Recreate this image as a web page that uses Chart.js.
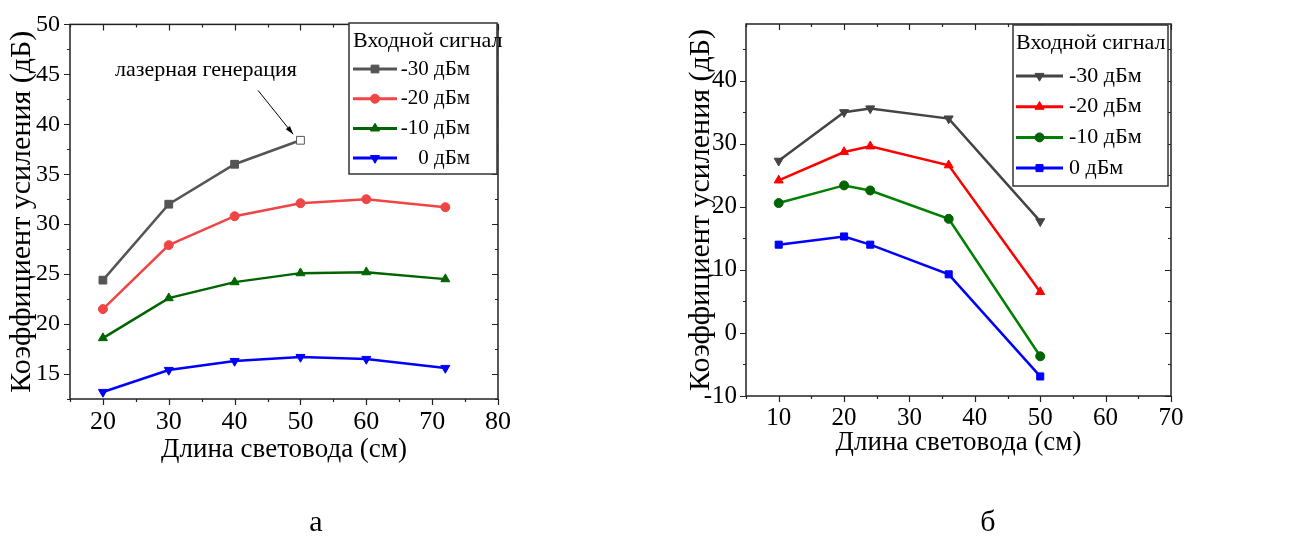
<!DOCTYPE html>
<html>
<head>
<meta charset="utf-8">
<script src="https://cdn.jsdelivr.net/npm/chart.js@4/dist/chart.umd.min.js"></script>
<style>
  body { margin: 0; background: #fff; }
  #wrap { position: relative; width: 1290px; height: 540px; overflow: hidden; }
  canvas { position: absolute; top: 0; }
  #chartA { left: 0; }
  #chartB { left: 645px; }
  .cap { position: absolute; top: 503px; width: 60px; text-align: center;
         font: 30px/36px "Liberation Serif", serif; color: #000; }
</style>
</head>
<body>
<div id="wrap">
  <canvas id="chartA" width="640" height="540"></canvas>
  <canvas id="chartB" width="645" height="540"></canvas>
  <div class="cap" style="left:286px">а</div>
  <div class="cap" style="left:958px">б</div>
</div>
<script>
// --- data ---
const seriesLabels = ["-30 дБм", "-20 дБм", "-10 дБм", "0 дБм"];

// (а) gain vs fibre length
const lenA = [20, 30, 40, 50, 60, 72];
const gainA30 = [24.4, 32.0, 36.0, 38.4];
const gainA20 = [21.5, 27.9, 30.8, 32.1, 32.5, 31.7];
const gainA10 = [18.6, 22.6, 24.2, 25.1, 25.2, 24.5];
const gainA0  = [13.2, 15.4, 16.3, 16.7, 16.5, 15.6];
const xTicksA = [20, 30, 40, 50, 60, 70, 80];
const yTicksA = [15, 20, 25, 30, 35, 40, 45, 50];

// (б) gain vs fibre length
const lenB = [10, 20, 24, 36, 50];
const gainB30 = [27.3, 35.0, 35.6, 34.0, 17.7];
const gainB20 = [24.2, 28.7, 29.6, 26.6, 6.5];
const gainB10 = [20.6, 23.4, 22.6, 18.1, -3.7];
const gainB0  = [14.0, 15.3, 14.0, 9.3, -6.9];
const xTicksB = [10, 20, 30, 40, 50, 60, 70];
const yTicksB = [-10, 0, 10, 20, 30, 40];

const legendTitle = "Входной сигнал";
const xTitle = "Длина световода (см)";
const yTitle = "Коэффициент усиления (дБ)";
const noteText = "лазерная генерация";

const FONT = "'Liberation Serif', 'Times New Roman', serif";

function pts(xs, ys) {
    return ys.map((v, i) => ({ x: xs[i], y: v }));
}

function series(label, xs, ys, color, style, opts) {
    return Object.assign({
        label: label,
        data: pts(xs, ys),
        borderColor: color,
        backgroundColor: color,
        pointBackgroundColor: color,
        pointBorderColor: color,
        borderWidth: 2.5,
        pointStyle: style,
        pointRadius: style === "rect" ? 5.5 : (style === "triangle" ? 5.2 : 4.5),
        pointBorderWidth: 1,
        tension: 0
    }, opts || {});
}

// frame + Origin-like tick marks
const frameTicks = {
    id: "frameTicks",
    afterDraw(chart, args, o) {
        const { ctx, chartArea: a, scales: { x, y } } = chart;
        ctx.save();
        ctx.strokeStyle = "#222";
        ctx.lineWidth = 1.5;
        ctx.strokeRect(a.left, a.top, a.right - a.left, a.bottom - a.top);
        ctx.lineWidth = 1.2;
        ctx.beginPath();
        let v = Math.ceil(x.min / o.xMinor) * o.xMinor;
        for (; v <= x.max + 1e-9; v += o.xMinor) {
            const px = Math.round(x.getPixelForValue(v)) + 0.5;
            const len = Math.abs(v % o.xMajor) < 1e-9 ? 6 : 3;
            ctx.moveTo(px, a.bottom); ctx.lineTo(px, a.bottom + len);
            ctx.moveTo(px, a.top); ctx.lineTo(px, a.top + len);
        }
        v = Math.ceil(y.min / o.yMinor) * o.yMinor;
        for (; v <= y.max + 1e-9; v += o.yMinor) {
            const py = Math.round(y.getPixelForValue(v)) + 0.5;
            const len = Math.abs(v % o.yMajor) < 1e-9 ? 6 : 3;
            ctx.moveTo(a.left, py); ctx.lineTo(a.left - len, py);
            ctx.moveTo(a.right, py); ctx.lineTo(a.right - len, py);
        }
        ctx.stroke();
        ctx.restore();
    }
};

// boxed legend with line + marker samples
const boxLegend = {
    id: "boxLegend",
    afterDraw(chart, args, o) {
        const ctx = chart.ctx;
        ctx.save();
        ctx.fillStyle = "#fff";
        ctx.fillRect(o.x0, o.y0, o.w, o.h);
        ctx.strokeStyle = "#333";
        ctx.lineWidth = 1.5;
        ctx.strokeRect(o.x0, o.y0, o.w, o.h);
        ctx.font = "22px " + FONT;
        ctx.fillStyle = "#000";
        ctx.textBaseline = "middle";
        ctx.textAlign = "left";
        ctx.fillText(legendTitle, o.titleX, o.titleY);
        chart.data.datasets.forEach((ds, i) => {
            const yy = o.rowY + i * o.rowStep;
            ctx.strokeStyle = ds.borderColor;
            ctx.lineWidth = 3;
            ctx.beginPath();
            ctx.moveTo(o.lineX0, yy); ctx.lineTo(o.lineX1, yy);
            ctx.stroke();
            const mc = Array.isArray(ds.pointBackgroundColor) ? ds.pointBackgroundColor[0] : ds.pointBackgroundColor;
            ctx.fillStyle = mc;
            ctx.strokeStyle = mc;
            ctx.lineWidth = 1;
            Chart.helpers.drawPoint(ctx, {
                pointStyle: ds.pointStyle,
                rotation: ds.rotation || 0,
                radius: ds.pointRadius,
                borderWidth: 1
            }, (o.lineX0 + o.lineX1) / 2, yy);
            ctx.fillStyle = "#000";
            ctx.textAlign = o.align;
            ctx.font = o.rowFont + "px " + FONT;
            ctx.fillText(ds.label, o.textX, yy);
        });
        ctx.restore();
    }
};

// text + arrow pointing at the lasing point
const note = {
    id: "note",
    afterDatasetsDraw(chart, args, o) {
        if (!o.text) return;
        const { ctx, scales: { x, y } } = chart;
        ctx.save();
        ctx.font = "22px " + FONT;
        ctx.fillStyle = "#000";
        ctx.textAlign = "center";
        ctx.textBaseline = "middle";
        ctx.fillText(o.text, x.getPixelForValue(o.tx), y.getPixelForValue(o.ty));
        const x0 = x.getPixelForValue(o.from[0]), y0 = y.getPixelForValue(o.from[1]);
        const x1 = x.getPixelForValue(o.to[0]), y1 = y.getPixelForValue(o.to[1]);
        ctx.strokeStyle = "#000";
        ctx.lineWidth = 1;
        ctx.beginPath();
        ctx.moveTo(x0, y0); ctx.lineTo(x1, y1);
        ctx.stroke();
        const ang = Math.atan2(y1 - y0, x1 - x0);
        ctx.beginPath();
        ctx.moveTo(x1, y1);
        ctx.lineTo(x1 - 9 * Math.cos(ang - 0.3), y1 - 9 * Math.sin(ang - 0.3));
        ctx.lineTo(x1 - 9 * Math.cos(ang + 0.3), y1 - 9 * Math.sin(ang + 0.3));
        ctx.closePath();
        ctx.fill();
        ctx.restore();
    }
};

function axes(xr, yr, xTicks, yTicks, p) {
    return {
        x: {
            type: "linear", min: xr[0], max: xr[1],
            grid: { display: false, drawTicks: false },
            border: { display: false },
            afterFit: s => { s.height = 70; },
            afterBuildTicks: s => { s.ticks = xTicks.map(v => ({ value: v })); },
            ticks: {
                autoSkip: false, maxRotation: 0, padding: p.xTick, color: "#000",
                font: { family: FONT, size: p.xFont, lineHeight: 1.2 }
            },
            title: {
                display: true, text: xTitle, color: "#000",
                font: { family: FONT, size: 27, lineHeight: 1.2 },
                padding: { top: 0, bottom: p.xTitle }
            }
        },
        y: {
            min: yr[0], max: yr[1],
            grid: { display: false, drawTicks: false },
            border: { display: false },
            afterFit: s => { s.width = p.yWidth; },
            afterBuildTicks: s => { s.ticks = yTicks.map(v => ({ value: v })); },
            ticks: {
                autoSkip: false, padding: p.yTick, color: "#000",
                font: { family: FONT, size: p.yFont, lineHeight: 1.2 }
            },
            title: {
                display: true, text: yTitle, color: "#000",
                font: { family: FONT, size: 30, lineHeight: 1.2 },
                padding: { top: p.yTitle, bottom: 0 }
            }
        }
    };
}

new Chart(document.getElementById("chartA"), {
    type: "line",
    data: {
        datasets: [
            series(seriesLabels[0], lenA, gainA30, "#555555", "rect", {
                pointBackgroundColor: ["#555555", "#555555", "#555555", "#ffffff"]
            }),
            series(seriesLabels[1], lenA, gainA20, "#f04545", "circle"),
            series(seriesLabels[2], lenA, gainA10, "#006400", "triangle"),
            series(seriesLabels[3], lenA, gainA0, "#0000ff", "triangle", { rotation: 180 })
        ]
    },
    options: {
        responsive: false,
        animation: false,
        layout: { padding: { left: 0, right: 142, top: 23, bottom: 71 } },
        scales: axes([15, 80], [12.5, 50], xTicksA, yTicksA,
            { xTick: 8, xTitle: 3, xFont: 26, yTick: 10, yFont: 24, yTitle: 4, yWidth: 70 }),
        plugins: {
            legend: { display: false },
            tooltip: { enabled: false },
            frameTicks: { xMinor: 5, xMajor: 10, yMinor: 2.5, yMajor: 5 },
            boxLegend: {
                x0: 349, y0: 23, w: 148, h: 151,
                titleX: 353, titleY: 41, rowY: 69, rowStep: 29.7, rowFont: 21,
                lineX0: 353, lineX1: 397, textX: 470, align: "right"
            },
            note: { text: noteText, tx: 35.65, ty: 45.4, from: [43.55, 43.4], to: [48.9, 39.0] }
        }
    },
    plugins: [frameTicks, boxLegend, note]
});

new Chart(document.getElementById("chartB"), {
    type: "line",
    data: {
        datasets: [
            series(seriesLabels[0], lenB, gainB30, "#444444", "triangle", { rotation: 180 }),
            series(seriesLabels[1], lenB, gainB20, "#ff0000", "triangle"),
            series(seriesLabels[2], lenB, gainB10, "#008000", "circle", {
                pointBackgroundColor: "#006400", pointBorderColor: "#006400"
            }),
            series(seriesLabels[3], lenB, gainB0, "#0000ff", "rect", { pointRadius: 5 })
        ]
    },
    options: {
        responsive: false,
        animation: false,
        layout: { padding: { left: 30, right: 119, top: 24, bottom: 74 } },
        scales: axes([5, 70], [-10, 49], xTicksB, yTicksB,
            { xTick: 7, xTitle: 7, xFont: 25, yTick: 9, yFont: 25, yTitle: 8, yWidth: 71 }),
        plugins: {
            legend: { display: false },
            tooltip: { enabled: false },
            frameTicks: { xMinor: 5, xMajor: 10, yMinor: 5, yMajor: 10 },
            boxLegend: {
                x0: 368, y0: 25, w: 155, h: 161,
                titleX: 371, titleY: 43, rowY: 76, rowStep: 30.7, rowFont: 22,
                lineX0: 371, lineX1: 418, textX: 424, align: "left"
            },
            note: {}
        }
    },
    plugins: [frameTicks, boxLegend, note]
});
</script>
</body>
</html>
